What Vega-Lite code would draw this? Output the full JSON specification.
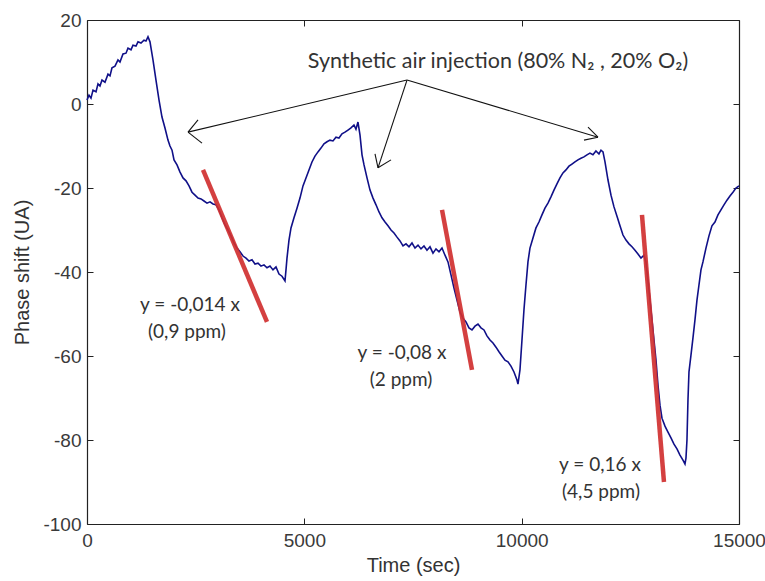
{
  "$schema": "https://vega.github.io/schema/vega-lite/v6.json",
  "width": 652,
  "height": 504,
  "autosize": {"type": "none"},
  "padding": {"left": 87, "top": 20, "right": 26, "bottom": 57},
  "background": "white",
  "config": {
    "view": {"stroke": null},
    "axis": {
      "domainColor": "#222",
      "domainWidth": 1.2,
      "tickColor": "#222",
      "tickWidth": 1,
      "tickSize": -6,
      "grid": false,
      "labelFlush": false,
      "labelFont": "Liberation Sans",
      "labelFontSize": 19,
      "labelColor": "#3a3a3a",
      "titleFont": "Liberation Sans",
      "titleFontSize": 20,
      "titleFontWeight": "normal",
      "titleColor": "#333"
    }
  },
  "datasets": {
    "curve": [
      {"t":0,"v":0.95},{"t":46,"v":2.1},{"t":92,"v":1.4},{"t":138,"v":3.3},{"t":207,"v":2.9},{"t":253,"v":4.8},{"t":299,"v":4.3},{"t":345,"v":5.7},{"t":414,"v":5.2},{"t":483,"v":7.1},{"t":529,"v":6.7},{"t":575,"v":8.6},{"t":644,"v":9.0},{"t":713,"v":10.5},{"t":759,"v":10.0},{"t":828,"v":11.9},{"t":897,"v":12.1},{"t":943,"v":13.3},{"t":1012,"v":12.9},{"t":1058,"v":14.0},{"t":1127,"v":13.8},{"t":1173,"v":14.8},{"t":1242,"v":14.5},{"t":1311,"v":15.2},{"t":1357,"v":15.0},{"t":1403,"v":16.0},
      {"t":1449,"v":14.8},{"t":1518,"v":10.5},{"t":1587,"v":5.7},{"t":1656,"v":1.0},{"t":1725,"v":-3.1},{"t":1794,"v":-5.7},{"t":1863,"v":-8.6},{"t":1909,"v":-10.0},{"t":1956,"v":-11.0},{"t":2002,"v":-13.3},{"t":2071,"v":-14.5},{"t":2140,"v":-16.2},{"t":2209,"v":-17.6},{"t":2278,"v":-18.3},{"t":2347,"v":-19.5},{"t":2416,"v":-21.0},{"t":2485,"v":-21.7},{"t":2554,"v":-22.4},{"t":2623,"v":-22.6},{"t":2692,"v":-23.1},{"t":2761,"v":-23.6},{"t":2830,"v":-23.3},{"t":2899,"v":-23.8},{"t":2968,"v":-24.0},{"t":3037,"v":-25.2},{"t":3106,"v":-27.1},{"t":3175,"v":-28.8},{"t":3244,"v":-30.0},{"t":3313,"v":-31.4},{"t":3382,"v":-33.1},{"t":3451,"v":-34.3},{"t":3520,"v":-35.2},{"t":3589,"v":-36.2},{"t":3658,"v":-36.7},{"t":3727,"v":-37.4},{"t":3796,"v":-37.1},{"t":3865,"v":-38.1},{"t":3934,"v":-37.9},{"t":4003,"v":-38.6},{"t":4072,"v":-38.3},{"t":4141,"v":-39.0},{"t":4210,"v":-38.6},{"t":4279,"v":-39.5},{"t":4348,"v":-38.8},{"t":4417,"v":-40.5},{"t":4486,"v":-41.0},{"t":4555,"v":-42.1},
      {"t":4578,"v":-39.5},{"t":4601,"v":-36.7},{"t":4647,"v":-32.4},{"t":4693,"v":-29.5},{"t":4762,"v":-27.1},{"t":4831,"v":-24.8},{"t":4900,"v":-22.4},{"t":4969,"v":-19.5},{"t":5038,"v":-17.6},{"t":5107,"v":-15.7},{"t":5176,"v":-13.8},{"t":5245,"v":-12.4},{"t":5314,"v":-11.4},{"t":5383,"v":-10.5},{"t":5452,"v":-9.5},{"t":5521,"v":-9.0},{"t":5590,"v":-8.6},{"t":5659,"v":-8.8},{"t":5728,"v":-7.9},{"t":5797,"v":-8.1},{"t":5866,"v":-7.1},{"t":5935,"v":-6.7},{"t":6004,"v":-6.2},{"t":6073,"v":-5.7},{"t":6142,"v":-5.0},{"t":6188,"v":-6.0},{"t":6234,"v":-4.3},
      {"t":6281,"v":-7.4},{"t":6327,"v":-12.1},{"t":6373,"v":-14.5},{"t":6442,"v":-17.6},{"t":6511,"v":-20.5},{"t":6580,"v":-22.4},{"t":6649,"v":-24.0},{"t":6718,"v":-25.7},{"t":6787,"v":-27.1},{"t":6856,"v":-28.1},{"t":6925,"v":-29.0},{"t":6994,"v":-30.0},{"t":7063,"v":-30.7},{"t":7132,"v":-31.7},{"t":7201,"v":-32.6},{"t":7270,"v":-33.8},{"t":7339,"v":-33.3},{"t":7408,"v":-34.0},{"t":7477,"v":-33.1},{"t":7546,"v":-34.3},{"t":7615,"v":-33.6},{"t":7684,"v":-34.5},{"t":7753,"v":-33.8},{"t":7822,"v":-34.8},{"t":7891,"v":-34.0},{"t":7960,"v":-35.5},{"t":8029,"v":-34.5},{"t":8098,"v":-35.2},{"t":8167,"v":-34.3},{"t":8236,"v":-36.0},{"t":8305,"v":-37.6},{"t":8374,"v":-40.7},{"t":8443,"v":-43.8},{"t":8512,"v":-46.7},{"t":8581,"v":-49.5},{"t":8650,"v":-51.0},{"t":8719,"v":-51.9},{"t":8788,"v":-53.3},{"t":8857,"v":-53.8},{"t":8926,"v":-52.9},{"t":8995,"v":-52.4},{"t":9064,"v":-53.3},{"t":9133,"v":-53.8},{"t":9202,"v":-55.2},{"t":9271,"v":-56.2},{"t":9340,"v":-56.9},{"t":9409,"v":-57.9},{"t":9478,"v":-59.0},{"t":9547,"v":-60.0},{"t":9616,"v":-61.0},{"t":9685,"v":-61.4},{"t":9754,"v":-62.4},{"t":9823,"v":-63.8},{"t":9892,"v":-65.7},{"t":9915,"v":-66.7},
      {"t":9961,"v":-63.3},{"t":10007,"v":-56.2},{"t":10053,"v":-49.0},{"t":10099,"v":-43.1},{"t":10145,"v":-37.6},{"t":10191,"v":-34.3},{"t":10260,"v":-31.9},{"t":10329,"v":-29.5},{"t":10398,"v":-28.1},{"t":10467,"v":-26.4},{"t":10536,"v":-24.8},{"t":10605,"v":-23.6},{"t":10674,"v":-22.1},{"t":10743,"v":-20.5},{"t":10812,"v":-19.0},{"t":10881,"v":-17.6},{"t":10950,"v":-16.4},{"t":11019,"v":-15.7},{"t":11088,"v":-14.8},{"t":11157,"v":-14.3},{"t":11226,"v":-13.8},{"t":11295,"v":-13.3},{"t":11364,"v":-12.9},{"t":11433,"v":-12.6},{"t":11502,"v":-12.1},{"t":11571,"v":-11.7},{"t":11640,"v":-12.1},{"t":11709,"v":-11.2},{"t":11778,"v":-11.9},{"t":11825,"v":-11.0},{"t":11871,"v":-11.4},
      {"t":11917,"v":-13.8},{"t":11986,"v":-18.1},{"t":12055,"v":-21.7},{"t":12124,"v":-24.5},{"t":12193,"v":-26.7},{"t":12262,"v":-29.0},{"t":12331,"v":-31.2},{"t":12400,"v":-32.4},{"t":12469,"v":-33.3},{"t":12538,"v":-34.0},{"t":12607,"v":-34.8},{"t":12676,"v":-35.7},{"t":12745,"v":-36.7},{"t":12814,"v":-36.0},{"t":12860,"v":-37.6},{"t":12906,"v":-41.9},{"t":12952,"v":-46.7},{"t":12998,"v":-51.4},{"t":13044,"v":-56.2},{"t":13090,"v":-61.0},{"t":13136,"v":-66.9},{"t":13182,"v":-71.7},{"t":13228,"v":-74.8},{"t":13297,"v":-76.7},{"t":13366,"v":-78.1},{"t":13435,"v":-79.5},{"t":13504,"v":-81.0},{"t":13573,"v":-82.1},{"t":13642,"v":-83.6},{"t":13711,"v":-84.8},{"t":13757,"v":-85.7},
      {"t":13780,"v":-84.3},{"t":13803,"v":-80.0},{"t":13826,"v":-70.5},{"t":13849,"v":-63.8},{"t":13895,"v":-59.8},{"t":13941,"v":-55.7},{"t":13987,"v":-51.4},{"t":14033,"v":-46.7},{"t":14079,"v":-43.1},{"t":14125,"v":-39.5},{"t":14171,"v":-37.6},{"t":14240,"v":-34.3},{"t":14309,"v":-31.4},{"t":14378,"v":-29.0},{"t":14447,"v":-28.1},{"t":14516,"v":-26.4},{"t":14585,"v":-25.2},{"t":14654,"v":-24.0},{"t":14723,"v":-22.9},{"t":14792,"v":-21.9},{"t":14861,"v":-21.0},{"t":14930,"v":-20.0},{"t":15000,"v":-19.5}
    ],
    "fits": [
      {"x1":2669,"y1":-15.7,"x2":4141,"y2":-51.9},
      {"x1":8167,"y1":-25.2,"x2":8857,"y2":-63.3},
      {"x1":12768,"y1":-26.4,"x2":13274,"y2":-90.0}
    ],
    "arrows": [
      {"x1":7362,"y1":5.7,"x2":2324,"y2":-6.7},
      {"x1":7362,"y1":5.7,"x2":6695,"y2":-15.2},
      {"x1":7362,"y1":5.7,"x2":11756,"y2":-7.9},
      {"x1":2324,"y1":-6.7,"x2":2554,"y2":-3.8},
      {"x1":2324,"y1":-6.7,"x2":2646,"y2":-9.3},
      {"x1":6695,"y1":-15.2,"x2":6626,"y2":-11.9},
      {"x1":6695,"y1":-15.2,"x2":6994,"y2":-13.3},
      {"x1":11756,"y1":-7.9,"x2":11526,"y2":-5.5},
      {"x1":11756,"y1":-7.9,"x2":11434,"y2":-8.6}
    ],
    "heading": [
      {"x":9455,"y":10.0,"label":"Synthetic air injection (80% N₂ , 20% O₂)"}
    ],
    "notes": [
      {"x":2370,"y":-47.9,"label":"y = -0,014 x"},
      {"x":2300,"y":-54.3,"label":"(0,9 ppm)"},
      {"x":7247,"y":-59.3,"label":"y = -0,08 x"},
      {"x":7224,"y":-65.7,"label":"(2 ppm)"},
      {"x":11802,"y":-86.0,"label":"y = 0,16 x"},
      {"x":11825,"y":-92.4,"label":"(4,5 ppm)"}
    ]
  },
  "layer": [
    {
      "data": {"name": "curve"},
      "mark": {"type": "line", "color": "#101088", "strokeWidth": 1.6},
      "encoding": {
        "x": {
          "field": "t", "type": "quantitative",
          "scale": {"domain": [0, 15000], "nice": false, "zero": false},
          "axis": {"orient": "bottom", "values": [0, 5000, 10000, 15000], "labelExpr": "datum.value + ''", "labelPadding": 13, "title": "Time (sec)", "titleY": 41, "titleBaseline": "middle"}
        },
        "y": {
          "field": "v", "type": "quantitative",
          "scale": {"domain": [-100, 20], "nice": false, "zero": false},
          "axis": {"orient": "left", "values": [-100, -80, -60, -40, -20, 0, 20], "labelExpr": "datum.value + ''", "labelPadding": 12, "title": "Phase shift (UA)", "titleX": -65, "titleY": 252, "titleBaseline": "middle", "titleAlign": "center", "titleAngle": -90}
        }
      }
    },
    {
      "data": {"name": "fits"},
      "mark": {"type": "rule", "color": "#d03030", "strokeWidth": 4.5, "opacity": 0.92},
      "encoding": {
        "x": {"field": "x1", "type": "quantitative", "axis": {"orient": "top", "values": [0, 5000, 10000, 15000], "labels": false, "title": null}},
        "y": {"field": "y1", "type": "quantitative", "axis": {"orient": "right", "values": [-100, -80, -60, -40, -20, 0, 20], "labels": false, "title": null}},
        "x2": {"field": "x2"},
        "y2": {"field": "y2"}
      }
    },
    {
      "data": {"name": "arrows"},
      "mark": {"type": "rule", "color": "#111", "strokeWidth": 1.1},
      "encoding": {
        "x": {"field": "x1", "type": "quantitative", "axis": null},
        "y": {"field": "y1", "type": "quantitative", "axis": null},
        "x2": {"field": "x2"},
        "y2": {"field": "y2"}
      }
    },
    {
      "data": {"name": "heading"},
      "mark": {"type": "text", "font": "Lato", "fontSize": 21.5, "color": "#333", "align": "center", "baseline": "middle"},
      "encoding": {
        "x": {"field": "x", "type": "quantitative", "axis": null},
        "y": {"field": "y", "type": "quantitative", "axis": null},
        "text": {"field": "label"}
      }
    },
    {
      "data": {"name": "notes"},
      "mark": {"type": "text", "font": "Lato", "fontSize": 19, "color": "#333", "align": "center", "baseline": "middle"},
      "encoding": {
        "x": {"field": "x", "type": "quantitative", "axis": null},
        "y": {"field": "y", "type": "quantitative", "axis": null},
        "text": {"field": "label"}
      }
    }
  ],
  "resolve": {"axis": {"x": "independent", "y": "independent"}}
}
